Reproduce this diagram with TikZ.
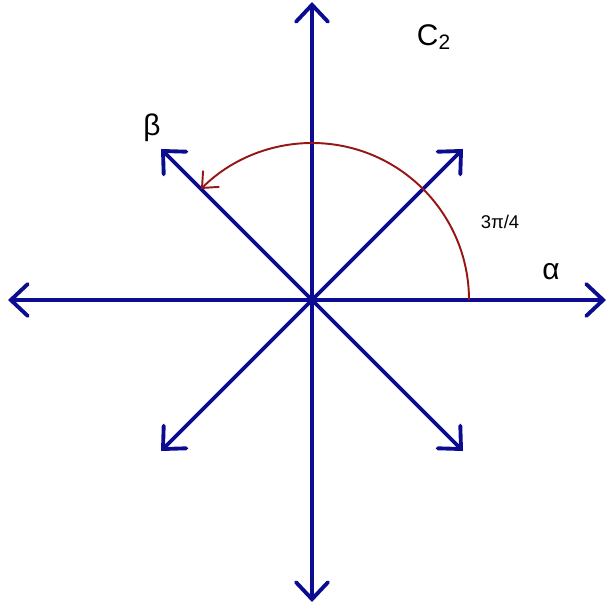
\documentclass[tikz,border=0pt]{standalone}
\usepackage{fontspec}
\setmainfont{Liberation Sans}
\usetikzlibrary{arrows.meta}
\definecolor{rootblue}{RGB}{12,12,145}
\definecolor{arcred}{RGB}{150,22,22}
\tikzset{
    root/.style={rootblue, line width=2.2pt, -{Straight Barb[length=3.4mm, width=6.4mm, line cap=round]}},
    rotarc/.style={arcred, line width=1.1pt, -{Straight Barb[length=2.6mm, width=4.6mm]}},
    lbl/.style={font=\fontsize{17}{19}\selectfont, inner sep=0pt}
}

\begin{document}
\begin{tikzpicture}
\useasboundingbox (0,0) rectangle (12.16,-12.16);
\coordinate (O) at (6.24, -6);
\coordinate (N) at (6.24, -0.04);
\coordinate (S) at (6.24, -12.04);
\coordinate (W) at (0.16, -6);
\coordinate (E) at (12.12, -6);
\coordinate (NE) at (9.26, -2.98);
\coordinate (NW) at (3.22, -2.98);
\coordinate (SW) at (3.22, -9.02);
\coordinate (SE) at (9.26, -9.02);
\draw[root] (O)--(N);
\draw[root] (O)--(S);
\draw[root] (O)--(W);
\draw[root] (O)--(E);
\draw[root] (O)--(NE);
\draw[root] (O)--(NW);
\draw[root] (O)--(SW);
\draw[root] (O)--(SE);
\draw[rotarc] (O) ++(0:3.14) arc (0:135:3.14);
\node[lbl] (c2) at (8.68, -0.74) {C\textsubscript{2}};
\node[lbl] (beta) at (3.04, -2.56) {β};
\node[lbl] (alpha) at (11.02, -5.44) {α};
\node[font=\fontsize{10.5}{12}\selectfont, inner sep=0pt] (angle) at (10.0, -4.44) {3π/4};
\end{tikzpicture}
\end{document}
